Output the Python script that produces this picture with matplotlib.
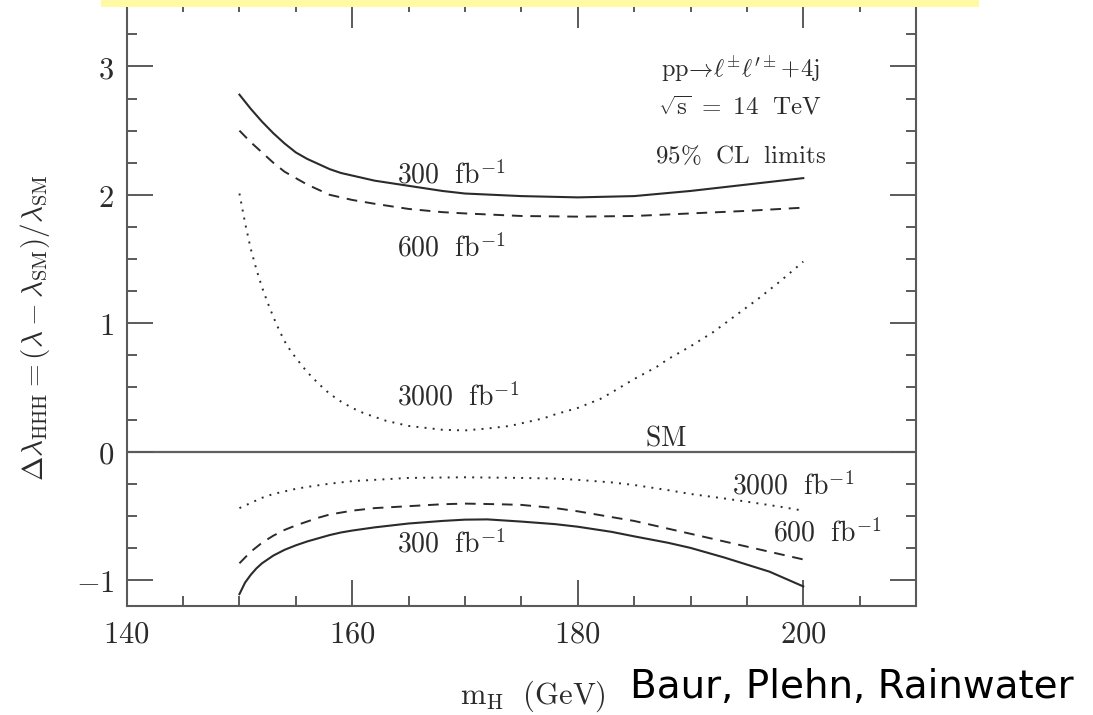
import matplotlib

matplotlib.use("Agg")
import matplotlib.pyplot as plt
from matplotlib.patches import Rectangle

plt.rcParams["mathtext.fontset"] = "cm"
plt.rcParams["font.family"] = "serif"
plt.rcParams["font.serif"] = ["DejaVu Serif"]

# Higgs mass (GeV) and 95% CL limit on the trilinear coupling, per luminosity
mh_upper_300 = [150, 151, 152, 153, 154, 155, 156, 157, 158, 159, 160, 162, 165, 168,
                170, 175, 180, 185, 190, 195, 200]
dl_upper_300 = [2.78, 2.67, 2.57, 2.48, 2.40, 2.33, 2.28, 2.24, 2.20, 2.17, 2.15, 2.11, 2.07, 2.03,
                2.01, 1.99, 1.98, 1.99, 2.03, 2.08, 2.13]

mh_upper_600 = [150, 151, 152, 153, 154, 155, 156, 157, 158, 159, 160, 162, 165, 168,
                170, 175, 180, 185, 190, 195, 200]
dl_upper_600 = [2.50, 2.41, 2.33, 2.25, 2.18, 2.13, 2.08, 2.04, 2.00, 1.98, 1.96, 1.93, 1.89, 1.865,
                1.855, 1.835, 1.83, 1.835, 1.855, 1.875, 1.90]

mh_upper_3000 = [150, 150.5, 151, 151.5, 152, 152.5, 153, 153.5, 154, 154.5, 155, 156, 157, 158,
                 159, 160, 161, 162, 163, 165, 168, 170, 172, 174, 175, 177, 178, 180, 182, 183,
                 185, 187, 188, 190, 192, 194, 196, 198, 200]
dl_upper_3000 = [2.01, 1.78, 1.58, 1.42, 1.28, 1.16, 1.05, 0.95, 0.86, 0.79, 0.73, 0.62, 0.53, 0.45,
                 0.39, 0.34, 0.30, 0.27, 0.24, 0.20, 0.17, 0.165, 0.18, 0.20, 0.22, 0.26, 0.29, 0.34,
                 0.41, 0.46, 0.565, 0.66, 0.72, 0.82, 0.93, 1.06, 1.19, 1.33, 1.48]

mh_lower_3000 = [150, 151, 152, 153, 154, 155, 156, 158, 160, 162, 165, 170, 175, 178, 180,
                 183, 185, 188, 190, 193, 195, 198, 200]
dl_lower_3000 = [-0.44, -0.40, -0.36, -0.33, -0.31, -0.29, -0.275, -0.25, -0.23, -0.22, -0.205,
                 -0.20, -0.205, -0.21, -0.22, -0.24, -0.26, -0.30, -0.33, -0.365, -0.39, -0.43, -0.46]

mh_lower_600 = [150, 151, 152, 153, 154, 155, 156, 157, 158, 160, 162, 165, 168, 170, 173,
                175, 178, 180, 183, 185, 188, 190, 193, 195, 198, 200]
dl_lower_600 = [-0.87, -0.78, -0.71, -0.655, -0.61, -0.575, -0.545, -0.515, -0.49, -0.46, -0.44,
                -0.425, -0.41, -0.405, -0.41, -0.415, -0.44, -0.465, -0.51, -0.54, -0.60, -0.64,
                -0.70, -0.74, -0.80, -0.84]

mh_lower_300 = [150, 150.5, 151, 151.5, 152, 153, 154, 155, 156, 157, 158, 159, 160, 162, 165,
                168, 170, 172, 175, 178, 180, 183, 185, 188, 190, 193, 195, 197, 200]
dl_lower_300 = [-1.11, -1.02, -0.96, -0.91, -0.87, -0.81, -0.765, -0.73, -0.70, -0.675, -0.65,
                -0.63, -0.615, -0.59, -0.56, -0.54, -0.53, -0.528, -0.545, -0.565, -0.585, -0.625,
                -0.66, -0.71, -0.75, -0.825, -0.88, -0.935, -1.05]

x_ticks = [140, 160, 180, 200]
x_tick_labels = ["$140$", "$160$", "$180$", "$200$"]
y_ticks = [-1, 0, 1, 2, 3]
y_tick_labels = ["$-1$", "$0$", "$1$", "$2$", "$3$"]

INK = "#2b2b2b"
AXIS = "#5a5a5a"

fig = plt.figure(figsize=(10.93, 7.15), dpi=100)
ax = fig.add_axes([0.1159, 0.1529, 0.7222, 0.844])

ax.axhline(0, color="#606060", lw=1.6, zorder=1)

solid = dict(color=INK, lw=1.5, ls="-")
dashed = dict(color=INK, lw=1.4, ls=(0, (5.5, 4)))
dotted = dict(color=INK, lw=1.4, ls=(0, (1, 3.2)))

ax.plot(mh_upper_300, dl_upper_300, **solid)
ax.plot(mh_upper_600, dl_upper_600, **dashed)
ax.plot(mh_upper_3000, dl_upper_3000, **dotted)
ax.plot(mh_lower_3000, dl_lower_3000, **dotted)
ax.plot(mh_lower_600, dl_lower_600, **dashed)
ax.plot(mh_lower_300, dl_lower_300, **solid)

ax.set_xlim(140, 210)
ax.set_ylim(-1.2, 3.5)
ax.set_xticks(x_ticks, x_tick_labels)
ax.set_yticks(y_ticks, y_tick_labels)
ax.set_xticks([x for x in range(140, 211, 5) if x % 20], minor=True)
ax.set_yticks([v / 4 for v in range(-4, 14) if v % 4], minor=True)
ax.tick_params(which="both", direction="in", top=True, right=True, color=AXIS,
               width=1.4, labelsize=22, labelcolor=INK)
ax.tick_params(which="major", length=19, pad=9)
ax.tick_params(which="minor", length=7)
for sp in ax.spines.values():
    sp.set_color(AXIS)
    sp.set_linewidth(1.5)

lab = dict(fontsize=20, color=INK)
ax.text(164.0, 2.15, r"$300\ \ \mathrm{fb}^{-1}$", va="center", **lab)
ax.text(164.0, 1.585, r"$600\ \ \mathrm{fb}^{-1}$", va="center", **lab)
ax.text(164.0, 0.425, r"$3000\ \ \mathrm{fb}^{-1}$", va="center", **lab)
ax.text(187.8, 0.108, r"$\mathrm{SM}$", ha="center", va="center", **lab)
ax.text(193.7, -0.267, r"$3000\ \ \mathrm{fb}^{-1}$", va="center", **lab)
ax.text(197.3, -0.634, r"$600\ \ \mathrm{fb}^{-1}$", va="center", **lab)
ax.text(164.0, -0.72, r"$300\ \ \mathrm{fb}^{-1}$", va="center", **lab)

ax.text(194.4, 2.98, r"$\mathrm{pp}\!\rightarrow\!\ell^{\pm}\ell^{\prime\pm}\!+\!4\mathrm{j}$",
        ha="center", va="center", fontsize=17.5, color=INK)
ax.text(194.4, 2.68, r"$\sqrt{\mathrm{s}}\ =\ 14\ \ \mathrm{TeV}$",
        ha="center", va="center", fontsize=18, color=INK)
ax.text(194.4, 2.30, r"$95\%\ \ \mathrm{CL\ \ limits}$",
        ha="center", va="center", fontsize=18, color=INK)

fig.text(35 / 1093, 1 - 328 / 715,
         r"$\Delta\lambda_{\mathrm{HHH}} = (\lambda - \lambda_{\mathrm{SM}})/\lambda_{\mathrm{SM}}$",
         rotation=90, ha="center", va="center", fontsize=21, color=INK)
fig.text(533 / 1093, 1 - 696 / 715, r"$\mathrm{m}_{\mathrm{H}}\ \ (\mathrm{GeV})$",
         ha="center", va="center", fontsize=22, color=INK)

fig.text(630 / 1093, 1 - 698 / 715, "Baur, Plehn, Rainwater", family="DejaVu Sans",
         ha="left", va="baseline", fontsize=28, color="black")

# pale yellow banner strip along the top edge
fig.add_artist(Rectangle((101 / 1093, 1 - 7 / 715), 878 / 1093, 7 / 715,
                         transform=fig.transFigure, facecolor="#fffaa3",
                         edgecolor="none", zorder=10))

fig.savefig("out.png", dpi=100)
